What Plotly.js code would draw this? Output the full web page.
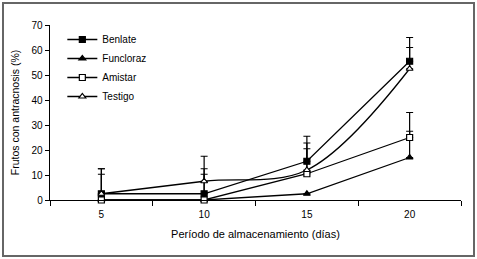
<!DOCTYPE html>
<html>
<head>
<meta charset="utf-8">
<script src="https://cdn.plot.ly/plotly-3.0.1.min.js"></script>
<style>
html,body{margin:0;padding:0;background:#fff;}
#wrap{position:relative;width:477px;height:259px;}
#chart{position:absolute;left:0;top:0;width:477px;height:259px;}
#frame{position:absolute;left:2px;top:2px;width:469px;height:251px;border:2px solid #666;pointer-events:none;}
</style>
</head>
<body>
<div id="wrap"><div id="chart"></div><div id="frame"></div></div>
<script>
const categories = ["5", "10", "15", "20"];
const benlate = [2.5, 2.5, 15.5, 55.5];
const benlateErr = [10, 10, 10, 9.5];
const funcloraz = [0, 0, 2.5, 17];
const funclorazErr = [0, 0, 0, 10.5];
const amistar = [0, 0, 10.5, 25];
const amistarErr = [10.3, 10.3, 10, 10];
const testigo = [2.5, 7.5, 12, 52.5];
const testigoErr = [10, 10, 10.8, 8.5];

function series(name, y, err, symbol, filled, shape) {
  return {
    type: 'scatter', mode: 'lines+markers', name: name,
    x: categories, y: y, cliponaxis: false,
    line: {color: '#000', width: 1.3, shape: shape || 'linear', smoothing: 1},
    marker: {symbol: symbol, size: 6, color: filled ? '#000' : '#fff',
             line: {color: '#000', width: 1.2}},
    error_y: {type: 'data', symmetric: false, array: err, arrayminus: err.map(() => 0),
              color: '#000', thickness: 1.2, width: 3.5}
  };
}

const data = [
  series('Benlate', benlate, benlateErr, 'square', true),
  series('Funcloraz', funcloraz, funclorazErr, 'triangle-up', true),
  series('Amistar', amistar, amistarErr, 'square', false),
  series('Testigo', testigo, testigoErr, 'triangle-up', false, 'spline')
];

const layout = {
  width: 477, height: 259,
  margin: {l: 50, r: 16, t: 25, b: 59},
  paper_bgcolor: '#fff', plot_bgcolor: '#fff',
  font: {family: 'Liberation Sans, Arial, sans-serif', size: 10, color: '#000'},
  showlegend: true,
  legend: {x: 0.03, y: 1.0, xanchor: 'left', yanchor: 'top', bgcolor: 'rgba(0,0,0,0)',
           font: {size: 10}, tracegroupgap: 0},
  xaxis: {
    type: 'category', range: [-0.5, 3.5], tickson: 'boundaries', ticks: 'outside', ticklen: 5, tickwidth: 1,
    tickcolor: '#000', showline: true, linecolor: '#000', linewidth: 1.3,
    showgrid: false, zeroline: false, fixedrange: true, ticklabelstandoff: 5,
    title: {text: 'Período de almacenamiento (días)', font: {size: 11}, standoff: 11}
  },
  yaxis: {
    range: [0, 70], dtick: 10, ticks: 'outside', ticklen: 4, tickwidth: 1,
    tickcolor: '#000', showline: true, linecolor: '#000', linewidth: 1.3,
    showgrid: false, zeroline: false, fixedrange: true,
    title: {text: 'Frutos con antracnosis (%)', font: {size: 10.5}, standoff: 10}
  }
};

Plotly.newPlot('chart', data, layout, {displayModeBar: false, staticPlot: true});
</script>
</body>
</html>
